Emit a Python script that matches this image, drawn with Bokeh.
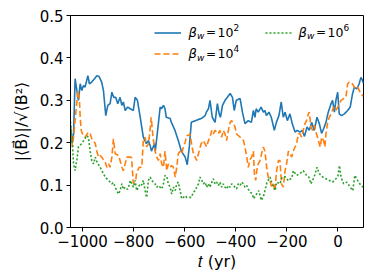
from bokeh.plotting import figure
from bokeh.models import Label, Legend, LegendItem, FixedTicker, Range1d
from bokeh.embed import file_html
from bokeh.resources import INLINE

# ---- data ----
t_b = [-1047, -1041, -1035, -1029, -1022, -1016, -1009, -1003, -996, -990, -979, -973, -964, -953,
       -944, -935, -925, -918, -909, -901, -892, -885, -878, -870, -862, -853, -846, -840, -833, -823,
       -813, -801, -794, -785, -774, -762, -750, -742, -735, -730, -718, -715, -703, -696, -691, -683,
       -677, -672, -657, -652, -638, -625, -613, -598, -590, -582, -574, -559, -546, -535, -520, -515,
       -507, -501, -492, -481, -472, -465, -460, -452, -442, -433, -422, -413, -406, -398, -383, -374,
       -364, -351, -339, -331, -325, -320, -312, -301, -292, -286, -280, -270, -261, -249, -241, -231,
       -222, -214, -207, -198, -188, -179, -168, -159, -149, -140, -131, -121, -112, -103, -93, -82,
       -73, -64, -56, -47, -38, -27, -21, -14, -8, -1, 5, 14, 25, 38, 48, 57, 64, 74, 83, 90, 96, 100]
v_b = [0.24, 0.20, 0.22, 0.351, 0.323, 0.30, 0.339, 0.323, 0.335, 0.331, 0.358, 0.339, 0.343, 0.351,
       0.358, 0.356, 0.343, 0.323, 0.264, 0.288, 0.292, 0.319, 0.307, 0.307, 0.292, 0.307, 0.288, 0.296,
       0.276, 0.284, 0.28, 0.276, 0.307, 0.30, 0.26, 0.213, 0.198, 0.205, 0.193, 0.18, 0.198, 0.18,
       0.245, 0.284, 0.28, 0.288, 0.28, 0.26, 0.257, 0.248, 0.229, 0.205, 0.18, 0.166, 0.148, 0.19,
       0.248, 0.252, 0.255, 0.257, 0.264, 0.272, 0.28, 0.30, 0.26, 0.248, 0.292, 0.268, 0.26, 0.288,
       0.30, 0.307, 0.316, 0.307, 0.276, 0.30, 0.304, 0.272, 0.245, 0.252, 0.248, 0.276, 0.26, 0.28,
       0.272, 0.284, 0.272, 0.276, 0.264, 0.272, 0.26, 0.229, 0.248, 0.264, 0.296, 0.26, 0.272, 0.252,
       0.268, 0.245, 0.225, 0.229, 0.225, 0.229, 0.215, 0.237, 0.229, 0.248, 0.229, 0.26, 0.245, 0.222,
       0.233, 0.248, 0.272, 0.292, 0.30, 0.272, 0.30, 0.319, 0.268, 0.264, 0.268, 0.276, 0.284, 0.315,
       0.331, 0.327, 0.339, 0.354, 0.347, 0.34]

t_o = [-1047, -1039, -1031, -1018, -1012, -1009, -1005, -998, -990, -977, -970, -964, -950, -944,
       -937, -931, -925, -911, -905, -898, -892, -885, -879, -872, -859, -853, -846, -840, -833, -827,
       -813, -808, -801, -792, -788, -778, -768, -762, -755, -749, -742, -737, -731, -724, -716, -709,
       -703, -696, -690, -683, -677, -670, -664, -657, -651, -644, -637, -631, -625, -618, -612, -605,
       -598, -592, -586, -579, -573, -566, -559, -553, -546, -536, -527, -520, -514, -507, -501, -494,
       -488, -481, -475, -468, -462, -455, -449, -442, -436, -429, -422, -416, -409, -403, -397, -390,
       -383, -377, -370, -364, -357, -351, -344, -338, -331, -327, -322, -318, -312, -305, -299, -292,
       -286, -279, -273, -266, -260, -253, -247, -240, -233, -227, -221, -214, -207, -201, -194, -188,
       -181, -175, -168, -162, -155, -149, -142, -136, -129, -123, -116, -112, -106, -99, -93, -86, -80,
       -73, -69, -64, -56, -51, -47, -41, -34, -27, -17, -8, -1, 12, 22, 31, 38, 44, 51, 57, 64, 70, 77,
       87, 96, 100]
v_o = [0.22, 0.19, 0.24, 0.323, 0.30, 0.26, 0.229, 0.217, 0.213, 0.225, 0.221, 0.21, 0.198, 0.18,
       0.166, 0.17, 0.166, 0.154, 0.142, 0.15, 0.142, 0.166, 0.209, 0.174, 0.17, 0.158, 0.142, 0.134,
       0.15, 0.166, 0.166, 0.165, 0.104, 0.11, 0.13, 0.142, 0.142, 0.205, 0.213, 0.19, 0.197, 0.221,
       0.26, 0.213, 0.18, 0.166, 0.158, 0.174, 0.15, 0.142, 0.18, 0.134, 0.15, 0.142, 0.146, 0.142,
       0.119, 0.142, 0.174, 0.18, 0.174, 0.19, 0.201, 0.217, 0.217, 0.221, 0.197, 0.174, 0.166, 0.158,
       0.174, 0.197, 0.205, 0.197, 0.19, 0.205, 0.213, 0.229, 0.221, 0.229, 0.225, 0.221, 0.229, 0.213,
       0.229, 0.221, 0.205, 0.229, 0.248, 0.252, 0.245, 0.237, 0.221, 0.217, 0.213, 0.209, 0.205, 0.19,
       0.166, 0.142, 0.16, 0.166, 0.18, 0.127, 0.111, 0.134, 0.15, 0.158, 0.174, 0.19, 0.18, 0.142,
       0.119, 0.111, 0.095, 0.103, 0.087, 0.134, 0.158, 0.158, 0.103, 0.095, 0.134, 0.15, 0.18, 0.174,
       0.166, 0.18, 0.19, 0.197, 0.221, 0.221, 0.213, 0.229, 0.245, 0.252, 0.268, 0.272, 0.237, 0.229,
       0.241, 0.225, 0.213, 0.197, 0.19, 0.213, 0.205, 0.19, 0.221, 0.245, 0.26, 0.268, 0.284, 0.276,
       0.284, 0.30, 0.304, 0.307, 0.339, 0.343, 0.339, 0.339, 0.331, 0.327, 0.331, 0.319, 0.311, 0.31]

t_g = [-1047, -1041, -1035, -1029, -1022, -1016, -1003, -990, -983, -977, -970, -964, -957, -950,
       -944, -931, -918, -911, -898, -885, -879, -872, -866, -859, -853, -846, -840, -833, -824, -820,
       -813, -807, -801, -794, -788, -781, -774, -768, -762, -755, -749, -742, -735, -729, -722, -716,
       -709, -703, -696, -690, -683, -677, -670, -664, -657, -651, -644, -637, -631, -625, -618, -612,
       -605, -598, -592, -586, -574, -566, -559, -553, -546, -540, -533, -527, -520, -514, -507, -501,
       -494, -488, -481, -475, -468, -462, -455, -449, -442, -436, -429, -422, -416, -409, -403, -397,
       -390, -383, -377, -370, -364, -357, -351, -343, -336, -330, -323, -310, -300, -291, -278, -266,
       -256, -246, -240, -227, -219, -207, -194, -180, -175, -162, -149, -136, -123, -114, -106, -93,
       -82, -73, -60, -47, -34, -21, -8, 0, 6, 12, 22, 35, 48, 58, 66, 77, 90, 99]
v_g = [0.25, 0.21, 0.15, 0.134, 0.16, 0.19, 0.198, 0.21, 0.217, 0.213, 0.18, 0.158, 0.15, 0.166,
       0.155, 0.142, 0.127, 0.119, 0.111, 0.103, 0.106, 0.095, 0.087, 0.079, 0.087, 0.103, 0.09, 0.095,
       0.09, 0.095, 0.111, 0.103, 0.095, 0.111, 0.087, 0.095, 0.103, 0.1, 0.111, 0.087, 0.071, 0.111,
       0.119, 0.111, 0.107, 0.103, 0.095, 0.099, 0.095, 0.091, 0.103, 0.123, 0.119, 0.103, 0.095,
       0.079, 0.095, 0.087, 0.103, 0.107, 0.087, 0.068, 0.071, 0.075, 0.071, 0.071, 0.071, 0.083,
       0.087, 0.095, 0.103, 0.119, 0.111, 0.103, 0.107, 0.095, 0.103, 0.095, 0.107, 0.115, 0.103,
       0.107, 0.099, 0.107, 0.095, 0.103, 0.095, 0.091, 0.099, 0.095, 0.103, 0.099, 0.095, 0.091,
       0.103, 0.099, 0.107, 0.103, 0.095, 0.099, 0.09, 0.083, 0.08, 0.068, 0.075, 0.087, 0.064, 0.075,
       0.106, 0.119, 0.1, 0.087, 0.107, 0.103, 0.118, 0.12, 0.11, 0.118, 0.134, 0.123, 0.127, 0.134,
       0.123, 0.119, 0.103, 0.119, 0.142, 0.127, 0.119, 0.115, 0.111, 0.107, 0.115, 0.122, 0.146,
       0.119, 0.103, 0.107, 0.095, 0.087, 0.123, 0.111, 0.099, 0.095]

x_ticks = [-1000, -800, -600, -400, -200, 0]
x_tick_labels = ["\u22121000", "\u2212800", "\u2212600", "\u2212400", "\u2212200", "0"]
y_ticks = [0.0, 0.1, 0.2, 0.3, 0.4, 0.5]
y_tick_labels = ["0.0", "0.1", "0.2", "0.3", "0.4", "0.5"]
legend_exponents = ["2", "4", "6"]

BLUE, ORANGE, GREEN = "#1f77b4", "#ff7f0e", "#2ca02c"
FONT = "DejaVu Sans"

p = figure(frame_width=293, frame_height=212, x_range=Range1d(-1047, 100), y_range=Range1d(0, 0.5),
           output_backend="svg", toolbar_location=None,
           min_border_left=70, min_border_right=3, min_border_top=15, min_border_bottom=45)
p.grid.visible = False
p.outline_line_color = "black"
p.outline_line_width = 1
p.background_fill_color = "white"
p.border_fill_color = "white"

for ax in (p.xaxis[0], p.yaxis[0]):
    ax.major_tick_in = 0
    ax.major_tick_out = 4
    ax.major_tick_line_color = "black"
    ax.major_tick_line_width = 1
    ax.minor_tick_line_color = None
    ax.axis_line_color = "black"
    ax.major_label_text_font = FONT
    ax.major_label_text_font_size = "15px"
    ax.major_label_text_color = "black"
    ax.major_label_standoff = 3
    ax.axis_label_text_font = FONT
    ax.axis_label_text_font_size = "16px"
    ax.axis_label_text_font_style = "normal"
    ax.axis_label_text_color = "black"

p.xaxis.ticker = FixedTicker(ticks=x_ticks)
p.xaxis.major_label_overrides = dict(zip(x_ticks, x_tick_labels))
p.yaxis.ticker = FixedTicker(ticks=y_ticks)
p.yaxis.major_label_overrides = dict(zip(y_ticks, y_tick_labels))
p.xaxis.axis_label = "\U0001D461 (yr)"
p.xaxis.axis_label_standoff = 2
p.yaxis.axis_label = "|\u27e8B\u20d7\u27e9|/\u221a\u27e8B\u00b2\u27e9"
p.yaxis.axis_label_standoff = 6

rb = p.line(t_b, v_b, line_color=BLUE, line_width=1.6)
ro = p.line(t_o, v_o, line_color=ORANGE, line_width=1.6, line_dash="6 3")
rg = p.line(t_g, v_g, line_color=GREEN, line_width=1.6, line_dash="2 2")

common = dict(glyph_width=27, glyph_height=21, label_height=21, label_width=0, label_standoff=0,
              spacing=0, padding=0, margin=0, border_line_color=None, background_fill_alpha=0,
              label_text_font_size="1px")
leg1 = Legend(items=[LegendItem(label=" ", renderers=[rb]), LegendItem(label=" ", renderers=[ro])],
              location=(84, 163), **common)
leg2 = Legend(items=[LegendItem(label=" ", renderers=[rg])], location=(195, 184), **common)
p.add_layout(leg1)
p.add_layout(leg2)

def legend_text(tx, ty, exp):
    base = dict(x=tx, y=ty, text_font=FONT, text_baseline="middle", text_align="left", text_color="black")
    p.add_layout(Label(text="\u03b2", text_font_size="13px", text_font_style="italic", x_offset=0, **base))
    p.add_layout(Label(text="w", text_font_size="9px", text_font_style="italic", x_offset=8.5, y_offset=-4, **base))
    p.add_layout(Label(text="=", text_font_size="12px", x_offset=17.5, **base))
    p.add_layout(Label(text="10", text_font_size="12.5px", x_offset=29, **base))
    p.add_layout(Label(text=exp, text_font_size="9px", x_offset=45, y_offset=5, **base))

legend_text(-585, 0.46, legend_exponents[0])
legend_text(-585, 0.41, legend_exponents[1])
legend_text(-154, 0.46, legend_exponents[2])

open("out.html", "w").write(file_html(p, INLINE))
